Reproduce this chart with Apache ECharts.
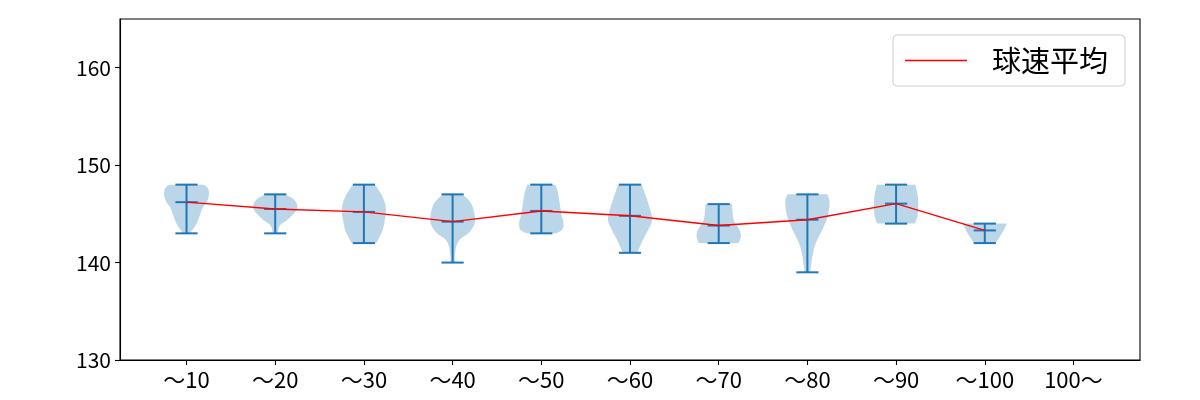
<!DOCTYPE html>
<html>
<head>
<meta charset="utf-8">
<script src="https://cdn.jsdelivr.net/npm/echarts@6/dist/echarts.min.js"></script>
<style>html,body{margin:0;padding:0;background:#fff}#c{width:1200px;height:400px}</style>
</head>
<body>
<div id="c"></div>
<script>
// ---- data ----
const categories = ['～10','～20','～30','～40','～50','～60','～70','～80','～90','～100','100～'];
const yTicks = [130, 140, 150, 160];
const vMin  = [143, 143, 142, 140, 143, 141, 142, 139, 144, 142];
const vMax  = [148, 147, 148, 147, 148, 148, 146, 147, 148, 144];
const vMean = [146.2, 145.5, 145.2, 144.2, 145.3, 144.8, 143.8, 144.4, 146.05, 143.3];
// violin outlines: [speed, relative half width], bottom to top
const shape10  = [[143,0.15],[143.3,0.25],[143.7,0.38],[144.4,0.53],[145.5,0.7],[146.2,0.9],[146.8,1.0],[147.4,1.0],[147.8,0.9],[148,0.76]];
const shape20  = [[143,0.12],[143.5,0.15],[143.9,0.25],[144.4,0.55],[145.2,0.9],[145.8,1.0],[146.5,0.83],[147,0.45]];
const shape30  = [[142,0.55],[142.4,0.65],[143.4,0.85],[144.8,0.97],[145.8,0.98],[146.8,0.83],[147.5,0.65],[148,0.5]];
const shape40  = [[140,0.1],[140.7,0.1],[141.7,0.17],[142.4,0.34],[143.1,0.75],[144.1,1.0],[145.2,0.97],[146.2,0.8],[147,0.45]];
const shape50  = [[143,0.68],[143.4,0.95],[144.1,1.0],[144.8,0.92],[146.2,0.82],[147.2,0.75],[148,0.63]];
const shape60  = [[141,0.33],[141.3,0.38],[142.4,0.6],[143.4,0.83],[144.4,1.0],[145.5,0.9],[146.8,0.72],[148,0.53]];
const shape70  = [[142,0.9],[142.7,1.0],[143.4,0.93],[144.1,0.73],[144.8,0.64],[146,0.6]];
const shape80  = [[139,0.13],[139.3,0.14],[140.7,0.23],[142,0.38],[143.4,0.68],[144.8,0.92],[146.2,1.0],[147,0.9]];
const shape90  = [[144,0.85],[144.8,0.97],[146.2,1.0],[147.2,0.95],[148,0.86]];
const shape100 = [[142,0.5],[142.4,0.6],[143.1,0.8],[144,1.0]];
const shapes = [shape10, shape20, shape30, shape40, shape50, shape60, shape70, shape80, shape90, shape100];
const legendName = '球速平均';

// ---- rendering ----
const FONT = 'Noto Sans CJK JP';
const BLUE = '#1f77b4';
const HALF = 0.25, CAP = 0.125;

function catmull(pts, steps) {
  if (pts.length < 3) return pts;
  const out = [];
  for (let i = 0; i < pts.length - 1; i++) {
    const p0 = pts[Math.max(i - 1, 0)], p1 = pts[i], p2 = pts[i + 1], p3 = pts[Math.min(i + 2, pts.length - 1)];
    for (let s = 0; s < steps; s++) {
      const t = s / steps, t2 = t * t, t3 = t2 * t;
      const f = (a, b, c, d) => 0.5 * ((2 * b) + (-a + c) * t + (2 * a - 5 * b + 4 * c - d) * t2 + (-a + 3 * b - 3 * c + d) * t3);
      out.push([f(p0[0], p1[0], p2[0], p3[0]), f(p0[1], p1[1], p2[1], p3[1])]);
    }
  }
  out.push(pts[pts.length - 1]);
  return out;
}

function renderViolin(params, api) {
  const i = api.value(0);
  const x = i + 1;
  const shp = shapes[i];
  const prof = catmull(shp.map(p => [p[1], p[0]]), 8);
  const right = prof.map(p => api.coord([x + p[0] * HALF, p[1]]));
  const left = prof.map(p => api.coord([x - p[0] * HALF, p[1]])).reverse();
  const poly = right.concat(left);
  const c = (xx, yy) => api.coord([xx, yy]);
  const line = (a, b) => ({ type: 'line', shape: { x1: a[0], y1: a[1], x2: b[0], y2: b[1] },
    style: { stroke: BLUE, lineWidth: 2 } });
  return {
    type: 'group',
    children: [
      { type: 'polygon', shape: { points: poly }, style: { fill: 'rgba(31,119,180,0.3)', stroke: null } },
      line(c(x, vMin[i]), c(x, vMax[i])),
      line(c(x - CAP, vMin[i]), c(x + CAP, vMin[i])),
      line(c(x - CAP, vMax[i]), c(x + CAP, vMax[i])),
      line(c(x - CAP, vMean[i]), c(x + CAP, vMean[i]))
    ]
  };
}

const chart = echarts.init(document.getElementById('c'), null, { renderer: 'canvas' });
chart.setOption({
  animation: false,
  textStyle: { fontFamily: FONT },
  grid: { left: 120, right: 60, top: 19, bottom: 40, show: true, borderColor: '#000', borderWidth: 1.1, backgroundColor: 'transparent' },
  xAxis: {
    type: 'value', min: 0.25, max: 11.75,
    splitLine: { show: false },
    axisLine: { show: true, lineStyle: { color: '#000', width: 1.1 } },
    axisTick: { show: true, length: 5, lineStyle: { color: '#000', width: 1.1 }, customValues: categories.map((_, i) => i + 1) },
    axisLabel: { color: '#000', fontSize: 22, fontFamily: FONT, margin: 9,
      customValues: categories.map((_, i) => i + 1),
      formatter: v => categories[Math.round(v) - 1] || '' }
  },
  yAxis: {
    type: 'value', min: 130, max: 165,
    splitLine: { show: false },
    axisLine: { show: true, lineStyle: { color: '#000', width: 1.1 } },
    axisTick: { show: true, length: 5, lineStyle: { color: '#000', width: 1.1 }, customValues: yTicks },
    axisLabel: { color: '#000', fontSize: 21, fontFamily: FONT, margin: 9, customValues: yTicks }
  },
  legend: {
    right: 75, top: 35,
    orient: 'vertical',
    backgroundColor: '#fff', borderColor: '#cccccc', borderWidth: 1, borderRadius: 4,
    padding: [11, 17, 11, 12],
    itemWidth: 62, itemHeight: 1.5,
    textStyle: { fontSize: 29, fontFamily: FONT, color: '#000', padding: [0, 0, 0, 20] },
    data: [{ name: legendName, icon: 'rect' }]
  },
  series: [
    {
      type: 'custom', name: 'violins',
      renderItem: renderViolin,
      data: shapes.map((_, i) => [i]),
      encode: { x: -1, y: -1 },
      z: 2, silent: true
    },
    {
      type: 'line', name: legendName,
      data: vMean.map((m, i) => [i + 1, m]),
      symbol: 'none', showSymbol: false,
      lineStyle: { color: 'red', width: 1.4 },
      itemStyle: { color: 'red' },
      z: 5
    }
  ]
});
</script>
</body>
</html>
